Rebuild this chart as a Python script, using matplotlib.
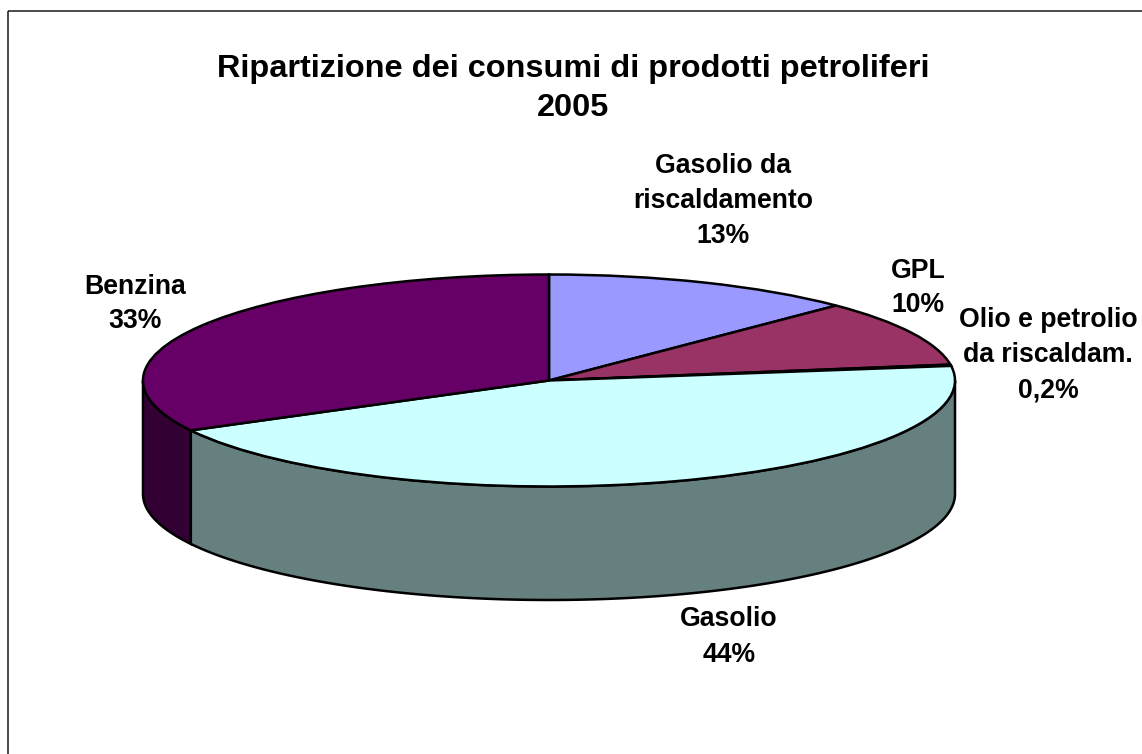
import numpy as np
import matplotlib
matplotlib.use("Agg")
import matplotlib.pyplot as plt
from matplotlib.patches import Rectangle
from matplotlib.transforms import Affine2D

W, H = 1142, 754

title = "Ripartizione dei consumi di prodotti petroliferi\n2005"
categories = ["Gasolio da\nriscaldamento", "GPL", "Olio e petrolio\nda riscaldam.", "Gasolio", "Benzina"]
values = [12.5, 10.1, 0.2, 44.4, 32.8]
value_labels = ["13%", "10%", "0,2%", "44%", "33%"]
top_colors = ["#9999FF", "#993366", "#FFFFCC", "#CCFFFF", "#660066"]
side_colors = ["#4C4C80", "#4C1933", "#808066", "#668080", "#330033"]
label_pos = [(723, 201), (918, 288), (1048, 355), (729, 637), (135, 304)]

plt.rcParams["font.family"] = ["Liberation Sans", "DejaVu Sans"]
fig = plt.figure(figsize=(W / 100, H / 100), dpi=100, facecolor="white")
px = Affine2D().scale(1, -1).translate(0, H)  # pixel coordinates, y downward

fig.add_artist(Rectangle((8, 10.5), W + 20, H + 20, transform=px, fill=False,
                         edgecolor="#1a1a1a", linewidth=1.1))

cx, cy, rx, ry, depth = 549, 380.5, 406, 106, 113.5
ax = fig.add_axes([(cx - rx) / W, 1 - (cy + ry) / H, 2 * rx / W, 2 * ry / H])

# side wall: visible (front) part of each slice
d = depth / ry
edges = 90 - 3.6 * np.concatenate([[0], np.cumsum(values)])
for i, col in enumerate(side_colors):
    hi, lo = min(edges[i], 0), max(edges[i + 1], -180)
    if hi <= lo:
        continue
    t = np.radians(np.linspace(hi, lo, 200))
    xs = np.concatenate([np.cos(t), np.cos(t[::-1])])
    ys = np.concatenate([np.sin(t), np.sin(t[::-1]) - d])
    ax.fill(xs, ys, facecolor=col, edgecolor="black", linewidth=1.8, clip_on=False, zorder=1)

wedges, _ = ax.pie(values, colors=top_colors, startangle=90, counterclock=False,
                   wedgeprops=dict(edgecolor="black", linewidth=1.8))
for w in wedges:
    w.set_clip_on(False)
    w.set_zorder(2)
ax.set_aspect("auto")
ax.set_xlim(-1, 1)
ax.set_ylim(-1, 1)
ax.axis("off")

fig.text(573, 88.5, title, transform=px, ha="center", va="center", fontsize=23.4,
         fontweight="bold", color="black", linespacing=1.38)
for name, val, (x, y) in zip(categories, value_labels, label_pos):
    fig.text(x, y, f"{name}\n{val}", transform=px, ha="center", va="center", fontsize=19.2,
             fontweight="bold", color="black", linespacing=1.45)

fig.savefig("out.png", dpi=100)
